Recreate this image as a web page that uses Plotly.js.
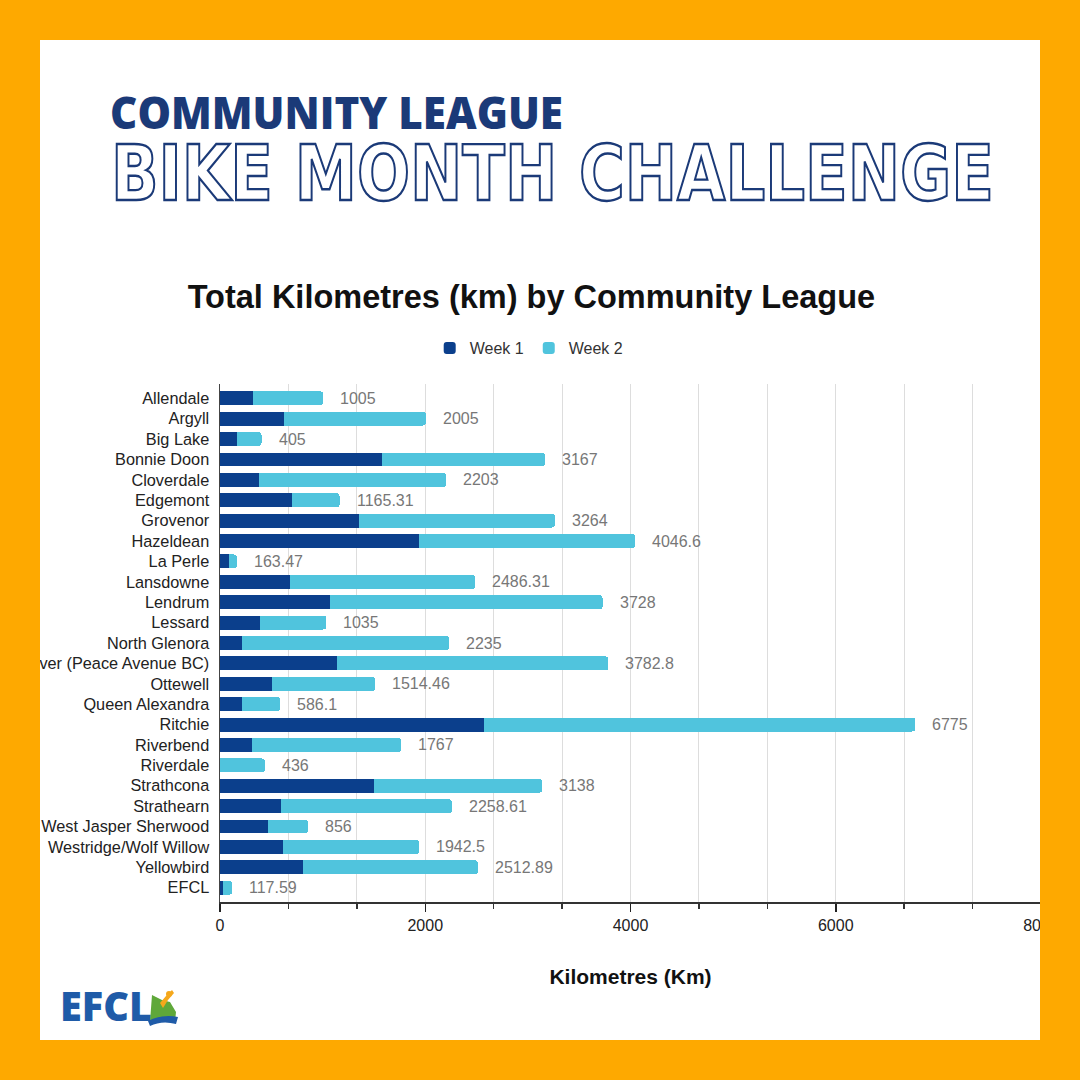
<!DOCTYPE html>
<html>
<head>
<meta charset="utf-8">
<script src="https://cdn.plot.ly/plotly-3.0.1.min.js"></script>
<style>
  html, body { margin: 0; padding: 0; }
  body { width: 1080px; height: 1080px; background: #FEA900; position: relative; overflow: hidden; }
  #panel { position: absolute; left: 40px; top: 40px; width: 1000px; height: 1000px; background: #ffffff; overflow: hidden; }
  #chart { position: absolute; left: -40px; top: -40px; width: 1080px; height: 1080px; }
  #head { position: absolute; left: -40px; top: -40px; width: 1080px; height: 260px; }
  #logo { position: absolute; left: -40px; top: -40px; width: 1080px; height: 1080px; pointer-events: none; }
</style>
</head>
<body>
<div id="panel">
  <div id="chart"></div>
  <svg id="head" width="1080" height="260" xmlns="http://www.w3.org/2000/svg">
    <text x="110" y="129" font-family="'Open Sans', 'Noto Sans', sans-serif" font-weight="800" font-size="45" fill="#1B3A78" textLength="453" lengthAdjust="spacingAndGlyphs">COMMUNITY LEAGUE</text>
    <text x="111" y="200" font-family="'DejaVu Sans', sans-serif" font-weight="700" font-size="77" fill="#ffffff" stroke="#1B3A78" stroke-width="2.4" textLength="883" lengthAdjust="spacingAndGlyphs">BIKE MONTH CHALLENGE</text>
  </svg>
  <svg id="logo" width="1080" height="1080" xmlns="http://www.w3.org/2000/svg">
    <text x="60" y="1021" font-family="'Open Sans', 'Noto Sans', sans-serif" font-weight="800" font-size="40" fill="#1F5BA8" textLength="92" lengthAdjust="spacingAndGlyphs">EFCL</text>
    <polygon points="150,1022 152,995 162,1000 170,1002 176,1012 175,1022" fill="#5FA83A"/>
    <circle cx="169" cy="994" r="3" fill="#F5A81C"/>
    <polygon points="160,1003 166,996 172,990 174,993 168,1000 163,1008" fill="#F5A81C"/>
    <path d="M148,1021 Q162,1014 178,1017 L176,1024 Q162,1020 150,1026 Z" fill="#1F5BA8"/>
  </svg>
</div>
<script>
// ---- data ----
var leagues = ["Allendale", "Argyll", "Big Lake", "Bonnie Doon", "Cloverdale", "Edgemont",
  "Grovenor", "Hazeldean", "La Perle", "Lansdowne", "Lendrum", "Lessard", "North Glenora",
  "Oliver (Peace Avenue BC)", "Ottewell", "Queen Alexandra", "Ritchie", "Riverbend", "Riverdale",
  "Strathcona", "Strathearn", "West Jasper Sherwood", "Westridge/Wolf Willow", "Yellowbird", "EFCL"];
var week1 = [322, 624, 166, 1579, 380, 702, 1355, 1940, 88, 682, 1072, 390, 214,
  1140, 507, 214, 2573, 312, 0, 1501, 595, 468, 614, 809, 29];
var week2 = [683, 1381, 239, 1588, 1823, 463.31, 1909, 2106.6, 75.47, 1804.31, 2656, 645, 2021,
  2642.8, 1007.46, 372.1, 4202, 1455, 436, 1637, 1663.61, 388, 1328.5, 1703.89, 88.59];
var totals = [1005, 2005, 405, 3167, 2203, 1165.31, 3264, 4046.6, 163.47, 2486.31, 3728, 1035, 2235,
  3782.8, 1514.46, 586.1, 6775, 1767, 436, 3138, 2258.61, 856, 1942.5, 2512.89, 117.59];
var totalLabels = ["1005", "2005", "405", "3167", "2203", "1165.31", "3264", "4046.6", "163.47",
  "2486.31", "3728", "1035", "2235", "3782.8", "1514.46", "586.1", "6775", "1767", "436", "3138",
  "2258.61", "856", "1942.5", "2512.89", "117.59"];
var xTickVals = [0, 2000, 4000, 6000, 8000];
var xTickText = ["0", "2000", "4000", "6000", "8000"];

var FONT = "'Liberation Sans', Arial, sans-serif";

var traces = [
  { type: "bar", orientation: "h", name: "Week 1", y: leagues, x: week1,
    marker: { color: "#0B3F8C" }, hoverinfo: "x+name" },
  { type: "bar", orientation: "h", name: "Week 2", y: leagues, x: week2,
    marker: { color: "#50C4DD" }, hoverinfo: "x+name" }
];

var annotations = leagues.map(function (c, i) {
  return { x: totals[i], y: c, xref: "x", yref: "y", text: totalLabels[i], showarrow: false,
    xanchor: "left", yanchor: "middle", xshift: 15,
    font: { family: FONT, size: 16, color: "#777777" } };
});

var layout = {
  width: 1080, height: 1080,
  paper_bgcolor: "rgba(0,0,0,0)", plot_bgcolor: "rgba(0,0,0,0)",
  margin: { l: 220, r: 39, t: 384, b: 178, pad: 0 },
  barmode: "stack", bargap: 0.32, barcornerradius: 3,
  title: { text: "<b>Total Kilometres (km) by Community League</b>", xref: "container", yref: "container",
    x: 0.492, xanchor: "center", y: 1 - 297 / 1080, yanchor: "middle",
    font: { family: FONT, size: 32.5, color: "#111111" } },
  legend: { orientation: "h", xref: "container", yref: "container", x: 0.49, xanchor: "center",
    y: 1 - 348 / 1080, yanchor: "middle", font: { family: FONT, size: 16, color: "#333333" },
    itemwidth: 30, traceorder: "normal" },
  xaxis: { range: [0, 8000], tickvals: xTickVals, ticktext: xTickText, ticks: "outside", ticklen: 8,
    tickcolor: "#222", tickwidth: 1.5, showline: true, linecolor: "#333", linewidth: 1.5,
    showgrid: true, gridcolor: "#DDDDDD", gridwidth: 1, zeroline: false,
    minor: { dtick: 2000 / 3, tick0: 0, ticks: "outside", ticklen: 5, tickcolor: "#333", showgrid: true, gridcolor: "#DDDDDD" },
    tickfont: { family: FONT, size: 16, color: "#222" },
    title: { text: "<b>Kilometres (Km)</b>", standoff: 36, font: { family: FONT, size: 21, color: "#111" } },
    automargin: false, fixedrange: true },
  yaxis: { type: "category", range: [24.7, -0.7], showline: true, linecolor: "#444", linewidth: 1.5,
    ticks: "", showgrid: false, zeroline: false, ticklabelstandoff: 6,
    tickfont: { family: FONT, size: 16.3, color: "#222" }, automargin: false, fixedrange: true },
  annotations: annotations,
  showlegend: true
};

Plotly.newPlot("chart", traces, layout, { displayModeBar: false, staticPlot: true });
</script>
</body>
</html>
